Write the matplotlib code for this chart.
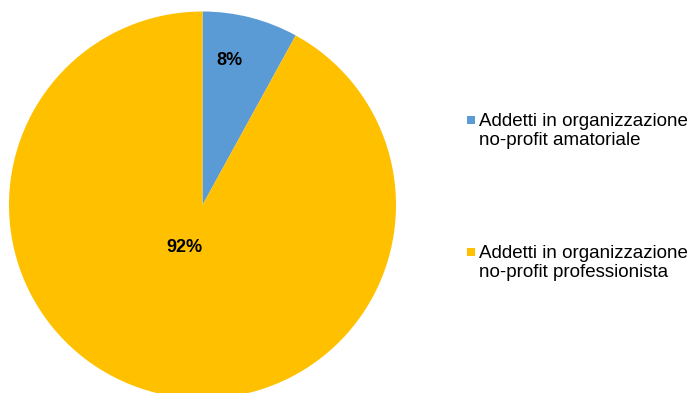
import matplotlib.pyplot as plt
from matplotlib.patches import Rectangle

plt.rcParams['font.family'] = ['Liberation Sans', 'DejaVu Sans']

labels = ['Addetti in organizzazione\nno-profit amatoriale',
          'Addetti in organizzazione\nno-profit professionista']
shares = [8, 92]
colors = ['#5B9BD5', '#FFC000']

W, H = 692, 393
fig = plt.figure(figsize=(W / 100, H / 100), dpi=100)

# pie centred at (202.5, 205) px, radius ~193.5 px
r_px = 193.5
cx, cy = 202.5, H - 205
ax = fig.add_axes([(cx - r_px) / W, (cy - r_px) / H, 2 * r_px / W, 2 * r_px / H])
wedges, texts, autotexts = ax.pie(shares, colors=colors, startangle=90, counterclock=False,
                                  autopct='%d%%', radius=1.0,
                                  textprops=dict(fontsize=13, fontweight='bold', color='black'))
ax.set_xlim(-1, 1)
ax.set_ylim(-1, 1)
ax.set_aspect('equal')

# label positions
autotexts[0].set_position((0.14, 0.745))
autotexts[1].set_position((-0.095, -0.22))

# legend on the right: square marker level with the first text line
leg_tops = [113, 245]
for wedge, lab, top in zip(wedges, labels, leg_tops):
    fig.patches.append(Rectangle((467 / W, 1 - (top + 11) / H), 8 / W, 8 / H,
                                 facecolor=wedge.get_facecolor(), edgecolor='none',
                                 transform=fig.transFigure))
    fig.text(479 / W, 1 - top / H, lab, fontsize=13.5, va='top', ha='left',
             linespacing=1.18)

fig.savefig('out.png', dpi=100)
